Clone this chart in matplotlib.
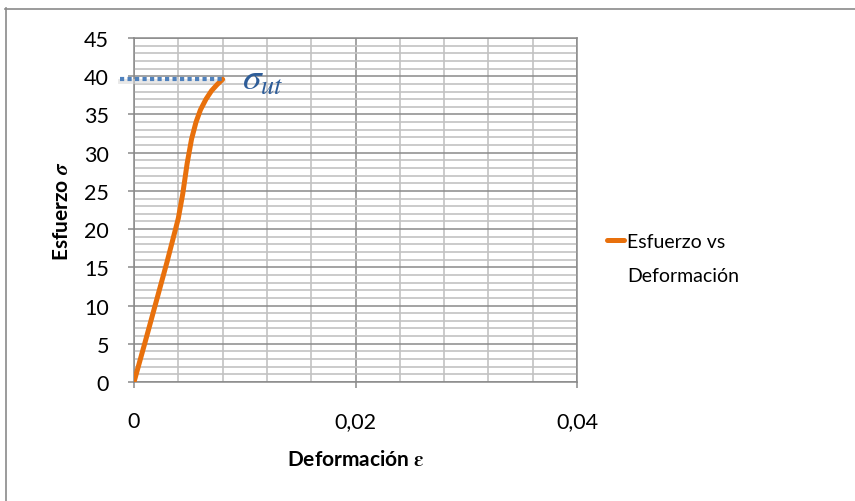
import numpy as np
import matplotlib.pyplot as plt
from matplotlib.lines import Line2D
from matplotlib.ticker import MultipleLocator, FuncFormatter

# curva esfuerzo-deformación
deformacion = [0, 0.001, 0.002, 0.003, 0.0035, 0.004, 0.0044, 0.0048, 0.0052, 0.0056,
               0.006, 0.0065, 0.007, 0.0075, 0.008]
esfuerzo = [0, 5.2, 10.5, 15.8, 18.6, 21.4, 24.6, 28.6, 31.8, 34.0,
            35.6, 37.0, 38.1, 38.9, 39.6]

# esfuerzo último
sigma_ut = 39.7
ut_x = [-0.00125, 0.008]

plt.rcParams['font.family'] = ['Lato', 'DejaVu Sans']
plt.rcParams['mathtext.fontset'] = 'stix'

W, H = 855, 502
fig = plt.figure(figsize=(W / 100, H / 100), dpi=100)
ax = fig.add_axes([134 / W, 1 - 383 / H, 443 / W, 344 / H])

ax.set_xlim(0, 0.04)
ax.set_ylim(0, 45)

# cuadrícula mayor y menor al estilo Excel
ax.xaxis.set_major_locator(MultipleLocator(0.02))
ax.xaxis.set_minor_locator(MultipleLocator(0.004))
ax.yaxis.set_major_locator(MultipleLocator(5))
ax.yaxis.set_minor_locator(MultipleLocator(1))
ax.grid(True, which='major', color='#8a8a8a', linewidth=1.1)
ax.grid(True, which='minor', color='#c2c2c2', linewidth=1.2)
ax.set_axisbelow(True)

for s in ax.spines.values():
    s.set_color('#8a8a8a')
    s.set_linewidth(1.1)

ax.tick_params(which='major', length=4, width=1.1, color='#8a8a8a', labelsize=15.5)
ax.tick_params(which='minor', length=0)
ax.tick_params(axis='y', pad=14)
ax.tick_params(axis='x', pad=17)
ax.xaxis.set_major_formatter(FuncFormatter(lambda v, p: '0' if v == 0 else f'{v:.2f}'.replace('.', ',')))
ax.yaxis.set_major_formatter(FuncFormatter(lambda v, p: f'{v:.0f}'))

ax.plot(deformacion, esfuerzo, color='#e8700c', linewidth=3.6, solid_capstyle='round', zorder=4)

# sombra suave y línea punteada del esfuerzo último
ax.plot(ut_x, [sigma_ut - 0.35, sigma_ut - 0.35], color='#d9d9d9', linewidth=3.5, alpha=0.6,
        clip_on=False, zorder=3)
ax.plot(ut_x, [sigma_ut, sigma_ut], color='#4f81bd', linewidth=3,
        linestyle=(0, (1, 0.8)), clip_on=False, zorder=5)
ax.text(0.00975, 38.3, r'$\sigma_{ut}$', color='#2e5d99', fontsize=27, va='baseline', ha='left')

ax.set_xlabel(r'Deformación $\boldsymbol{\varepsilon}$', fontsize=15, fontweight='bold')
ax.set_ylabel(r'Esfuerzo $\boldsymbol{\sigma}$', fontsize=15, fontweight='bold')
ax.xaxis.set_label_coords(0.5, -0.195)
ax.yaxis.set_label_coords(-0.14, 0.5)

# leyenda
fig.add_artist(Line2D([607 / W, 624 / W], [1 - 241 / H, 1 - 241 / H], color='#e8700c',
                      linewidth=3.6, solid_capstyle='round'))
fig.text(627 / W, 1 - 248 / H, 'Esfuerzo vs', fontsize=14, va='baseline', ha='left')
fig.text(627 / W, 1 - 282 / H, 'Deformación', fontsize=14, va='baseline', ha='left')

# marco del área del gráfico
fig.add_artist(Line2D([5.5 / W, 5.5 / W], [0, 1 - 9 / H], color='#8a8a8a', linewidth=1.2))
fig.add_artist(Line2D([5 / W, 1], [1 - 9.5 / H, 1 - 9.5 / H], color='#8a8a8a', linewidth=1.2))

fig.savefig('out.png', dpi=100)
